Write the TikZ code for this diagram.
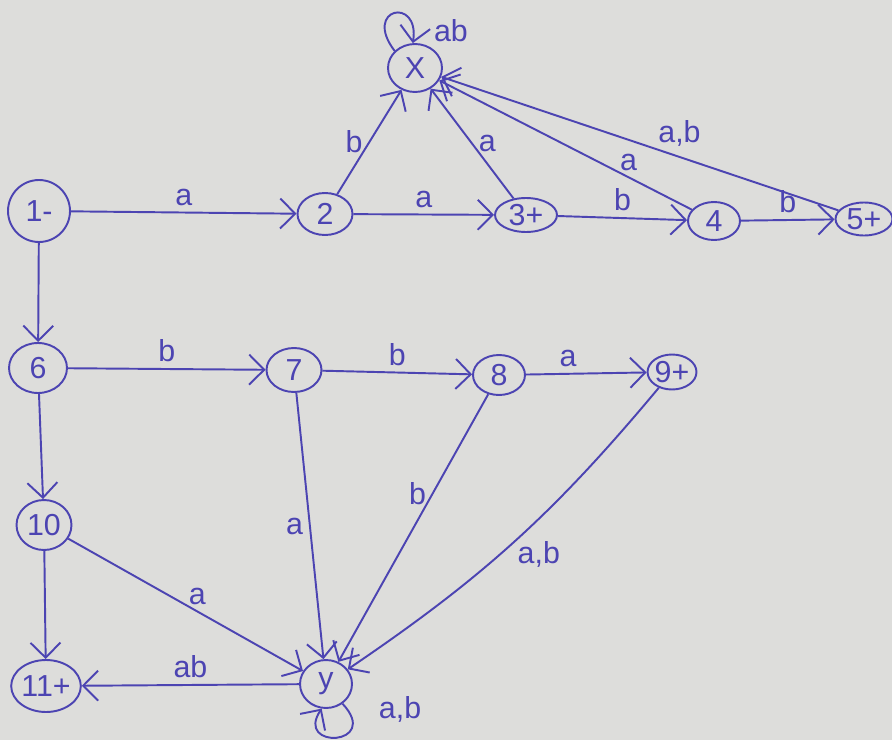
\documentclass[tikz,border=0pt]{standalone}
\usepackage{fontspec}
\setmainfont{Liberation Sans}
\usepackage{xcolor}
\usetikzlibrary{arrows.meta,shapes.geometric}
\definecolor{ink}{RGB}{76,68,178}
\definecolor{paper}{RGB}{221,221,219}

\begin{document}
\begin{tikzpicture}[x=0.02cm, y=-0.02cm,
  state/.style={draw=ink, ellipse, line width=1.1pt, inner sep=0pt,
    font=\LARGE, text=ink},
  arr/.style={-{Straight Barb[length=3mm]}, line width=1.1pt, draw=ink},
  lbl/.style={font=\LARGE, text=ink}
]
\useasboundingbox (0,0) rectangle (892,740);
\fill[paper] (0,0) rectangle (892,740);

\node[state, minimum width=1.24cm, minimum height=1.24cm] (s1) at (39,211) {1-};
\node[state, minimum width=1.08cm, minimum height=0.96cm] (sX) at (415,68) {X};
\node[state, minimum width=1.1cm, minimum height=0.84cm] (s2) at (325,214) {2};
\node[state, minimum width=1.24cm, minimum height=0.68cm] (s3) at (526,215) {3+};
\node[state, minimum width=1.04cm, minimum height=0.76cm] (s4) at (714,221) {4};
\node[state, minimum width=1.14cm, minimum height=0.66cm] (s5) at (864,219) {5+};
\node[state, minimum width=1.16cm, minimum height=1.0cm] (s6) at (38,368) {6};
\node[state, minimum width=1.1cm, minimum height=0.88cm] (s7) at (294,370) {7};
\node[state, minimum width=1.04cm, minimum height=0.8cm] (s8) at (499,375) {8};
\node[state, minimum width=0.9cm, minimum height=0.7cm] (s9) at (672,372) {9+};
\node[state, minimum width=1.1cm, minimum height=1.0cm] (s10) at (44,525) {10};
\node[state, minimum width=1.3cm, minimum height=1.04cm] (s11) at (46,686) {11+};
\node[state, minimum width=1.04cm, minimum height=0.96cm] (sy) at (326,684) {y};

% top row
\draw[arr] (s1) -- (s2) node[lbl, midway, above] {a};
\draw[arr] (s2) -- (s3) node[lbl, midway, above] {a};
\draw[arr] (s3) -- (s4) node[lbl, midway, above] {b};
\draw[arr] (s4) -- (s5) node[lbl, midway, above] {b};
\draw[arr] (s2) -- (sX) node[lbl, midway, left] {b};
\draw[arr] (s3) -- (sX) node[lbl, midway, right] {a};
\draw[arr] (s4) -- (sX) node[lbl, pos=0.25, above] {a};
\draw[arr] (s5) -- (sX) node[lbl, pos=0.4, above=2pt] {a,b};
\draw[arr] (sX.140) .. controls (362,8) and (420,-4) .. (sX.95)
  node[lbl, pos=0.9, right=8pt] {ab};

% middle row
\draw[arr] (s1) -- (s6);
\draw[arr] (s6) -- (s7) node[lbl, midway, above] {b};
\draw[arr] (s7) -- (s8) node[lbl, midway, above] {b};
\draw[arr] (s8) -- (s9) node[lbl, pos=0.35, above] {a};

% bottom part
\draw[arr] (s6) -- (s10);
\draw[arr] (s10) -- (s11);
\draw[arr] (s10) -- (sy) node[lbl, pos=0.55, above] {a};
\draw[arr] (s7) -- (sy) node[lbl, midway, left] {a};
\draw[arr] (s8) -- (sy) node[lbl, pos=0.37, left] {b};
\draw[arr] (s9) to[bend left=8] node[lbl, pos=0.55, right=6pt] {a,b} (sy);
\draw[arr] (sy) -- (s11) node[lbl, midway, above] {ab};
\draw[arr] (sy.-50) .. controls (382,746) and (294,750) .. (sy.-100)
  node[lbl, pos=0.05, right=14pt] {a,b};
\end{tikzpicture}
\end{document}
